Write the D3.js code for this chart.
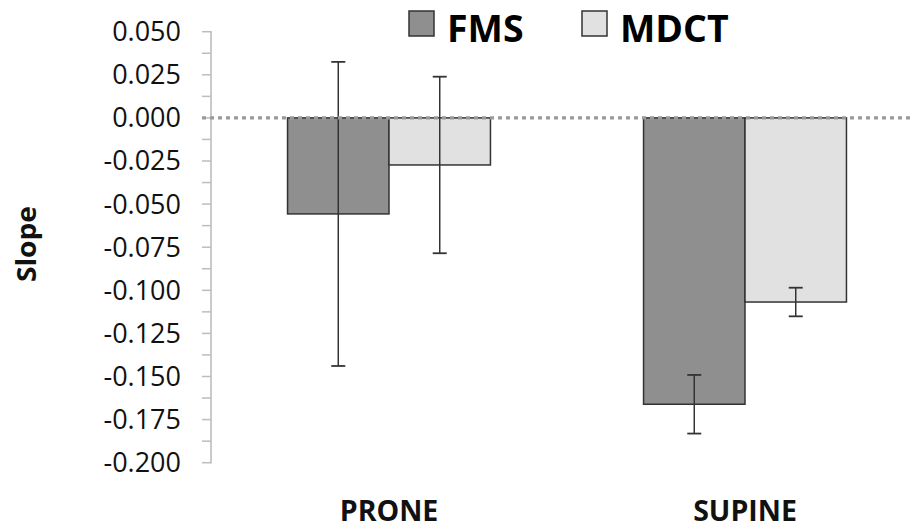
<!DOCTYPE html>
<html>
<head>
<meta charset="utf-8">
<script src="https://cdn.jsdelivr.net/npm/d3@7"></script>
<style>
  html, body { margin: 0; padding: 0; background: #fff; }
  svg { display: block; font-family: "Open Sans", "DejaVu Sans", sans-serif; }
</style>
</head>
<body>
<svg id="chart" width="914" height="529"></svg>
<script>
// Slope by position, FMS vs MDCT, with error bars
const categories = ["PRONE", "SUPINE"];
const seriesNames = ["FMS", "MDCT"];
const fmsValues = [-0.0557, -0.1661];
const fmsErrors = [0.0882, 0.0170];
const mdctValues = [-0.0273, -0.1068];
const mdctErrors = [0.0512, 0.0083];
const tickValues = [0.05, 0.025, 0, -0.025, -0.05, -0.075, -0.1, -0.125, -0.15, -0.175, -0.2];
const yTitle = "Slope";

const seriesColors = { FMS: "#8f8f8f", MDCT: "#e1e1e1" };
const series = [
  { name: "FMS", values: fmsValues, errors: fmsErrors },
  { name: "MDCT", values: mdctValues, errors: mdctErrors }
];

const svg = d3.select("#chart");

const y = d3.scaleLinear().domain([-0.2, 0.05]).range([462.7, 31.7]);
const x0 = d3.scaleBand().domain(categories).range([211, 923]).padding(0);
const groupWidth = x0.bandwidth() * 0.57;
const x1 = d3.scaleBand().domain(seriesNames).range([0, groupWidth]).padding(0);

// y axis with minor ticks between labelled ticks
const minorTicks = d3.range(0, 21).map(i => -0.2 + i * 0.0125);
const axisG = svg.append("g").attr("transform", "translate(211,0)");
axisG.selectAll("line.minor").data(minorTicks).join("line")
  .attr("class", "minor")
  .attr("x1", -9).attr("x2", 0)
  .attr("y1", d => y(d)).attr("y2", d => y(d))
  .attr("stroke", "#bdbdbd").attr("stroke-width", 1.5);
axisG.append("line")
  .attr("x1", 0).attr("x2", 0)
  .attr("y1", y(0.05) - 0.7).attr("y2", y(-0.2) + 0.7)
  .attr("stroke", "#bdbdbd").attr("stroke-width", 1.6);
axisG.selectAll("text.tick").data(tickValues).join("text")
  .attr("class", "tick")
  .attr("x", -30).attr("y", d => y(d))
  .attr("dy", "0.35em")
  .attr("text-anchor", "end")
  .attr("font-size", 27)
  .attr("fill", "#111")
  .text(d => d3.format(".3f")(d).replace("−", "-"));

// y axis title
svg.append("text")
  .attr("transform", "translate(36,244) rotate(-90)")
  .attr("text-anchor", "middle")
  .attr("font-size", 26)
  .attr("font-weight", "bold")
  .attr("fill", "#111")
  .attr("textLength", 76)
  .attr("lengthAdjust", "spacingAndGlyphs")
  .text(yTitle);

// bars
const groups = svg.selectAll("g.group").data(categories).join("g")
  .attr("class", "group")
  .attr("transform", c => `translate(${x0(c) + (x0.bandwidth() - groupWidth) / 2},0)`);

groups.selectAll("rect").data((c, i) => series.map(s => ({ s: s.name, v: s.values[i] }))).join("rect")
  .attr("x", d => x1(d.s))
  .attr("width", x1.bandwidth())
  .attr("y", d => Math.min(y(0), y(d.v)))
  .attr("height", d => Math.abs(y(d.v) - y(0)))
  .attr("fill", d => seriesColors[d.s])
  .attr("stroke", "#333")
  .attr("stroke-width", 1.5);

// zero reference line (dotted)
svg.append("line")
  .attr("x1", 202).attr("x2", 914)
  .attr("y1", y(0)).attr("y2", y(0))
  .attr("stroke", "#999")
  .attr("stroke-width", 3.2)
  .attr("stroke-dasharray", "4,4");

// error bars
const errData = (c, i) => series.map(s => ({ s: s.name, v: s.values[i], e: s.errors[i] }));
const errG = groups.selectAll("g.err").data(errData).join("g")
  .attr("class", "err")
  .attr("transform", d => `translate(${x1(d.s) + x1.bandwidth() / 2},0)`);
errG.append("line")
  .attr("x1", 0).attr("x2", 0)
  .attr("y1", d => y(d.v + d.e)).attr("y2", d => y(d.v - d.e))
  .attr("stroke", "#333").attr("stroke-width", 1.5);
errG.append("line")
  .attr("x1", -7).attr("x2", 7)
  .attr("y1", d => y(d.v + d.e)).attr("y2", d => y(d.v + d.e))
  .attr("stroke", "#333").attr("stroke-width", 1.8);
errG.append("line")
  .attr("x1", -7).attr("x2", 7)
  .attr("y1", d => y(d.v - d.e)).attr("y2", d => y(d.v - d.e))
  .attr("stroke", "#333").attr("stroke-width", 1.8);

// category labels
svg.selectAll("text.cat").data(categories).join("text")
  .attr("class", "cat")
  .attr("x", c => x0(c) + x0.bandwidth() / 2)
  .attr("y", 521)
  .attr("text-anchor", "middle")
  .attr("font-size", 28.5)
  .attr("font-weight", "bold")
  .attr("fill", "#111")
  .text(c => c);

// legend
const legendX = [409, 582];
const legend = svg.selectAll("g.legend").data(seriesNames).join("g")
  .attr("class", "legend")
  .attr("transform", (d, i) => `translate(${legendX[i]},11)`);
legend.append("rect")
  .attr("width", 25).attr("height", 25)
  .attr("fill", d => seriesColors[d])
  .attr("stroke", "#333").attr("stroke-width", 1.5);
legend.append("text")
  .attr("x", 38).attr("y", 30.7)
  .attr("font-size", 37.5)
  .attr("font-weight", "bold")
  .attr("fill", "#000")
  .text(d => d);
</script>
</body>
</html>
